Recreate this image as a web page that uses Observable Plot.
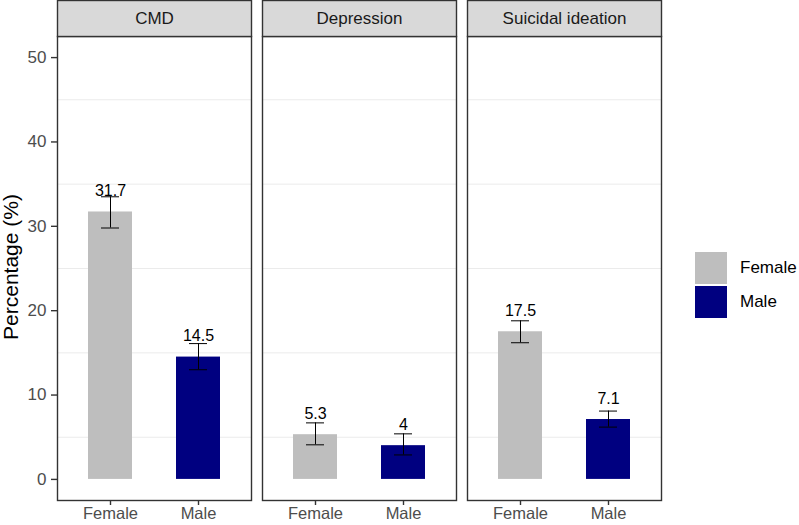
<!DOCTYPE html>
<html>
<head>
<meta charset="utf-8">
<script src="https://cdn.jsdelivr.net/npm/d3@7"></script>
<script src="https://cdn.jsdelivr.net/npm/@observablehq/plot@0.6"></script>
<style>
  html, body { margin: 0; padding: 0; background: #fff; }
  #wrap { position: relative; width: 799px; height: 525px; font-family: "Liberation Sans", Arial, sans-serif; }
  #legend { position: absolute; left: 695px; top: 251px; }
  .key { display: flex; align-items: center; height: 34px; }
  .sw { width: 32px; height: 32px; margin-right: 13px; }
  .lab { font-size: 17px; color: #000; }
</style>
</head>
<body>
<div id="wrap"><div id="chart"></div><div id="legend"></div></div>
<script>
const categories = ["CMD", "Depression", "Suicidal ideation"];
const sexes = ["Female", "Male"];
const femaleValues = [31.7, 5.3, 17.5];
const maleValues = [14.5, 4.0, 7.1];
const femaleLow = [29.8, 4.1, 16.2];
const femaleHigh = [33.5, 6.7, 18.8];
const maleLow = [13.0, 2.9, 6.2];
const maleHigh = [16.1, 5.4, 8.1];
const yTicks = [0, 10, 20, 30, 40, 50];
const yMinor = [5, 15, 25, 35, 45];
const colors = ["#BEBEBE", "#000080"];

const rows = [];
categories.forEach((c, i) => {
  rows.push({cat: c, sex: "Female", value: femaleValues[i], low: femaleLow[i], high: femaleHigh[i]});
  rows.push({cat: c, sex: "Male", value: maleValues[i], low: maleLow[i], high: maleHigh[i]});
});

const grid = [];
categories.forEach(c => yMinor.forEach(v => grid.push({cat: c, v})));

const font = "'Liberation Sans', Arial, sans-serif";

const chart = Plot.plot({
  width: 799,
  height: 525,
  marginLeft: 57,
  marginRight: 138,
  marginTop: 36,
  marginBottom: 25,
  style: {fontFamily: font, background: "#fff", overflow: "visible"},
  fx: {domain: categories, paddingInner: 0.054, paddingOuter: 0, axis: null},
  x: {domain: sexes, paddingInner: 0.5, paddingOuter: 0.35, axis: null},
  y: {type: "linear", domain: [-2.5, 52.5], axis: null},
  color: {domain: sexes, range: colors},
  marks: [
    Plot.ruleY(grid, {fx: "cat", y: "v", stroke: "#EBEBEB", strokeWidth: 1}),
    Plot.barY(rows, {fx: "cat", x: "sex", y1: 0, y2: "value", fill: "sex"}),
    Plot.ruleX(rows, {fx: "cat", x: "sex", y1: "low", y2: "high", stroke: "#000", strokeWidth: 1}),
    Plot.tickY(rows, {fx: "cat", x: "sex", y: "low", stroke: "#000", strokeWidth: 1, insetLeft: 13, insetRight: 13}),
    Plot.tickY(rows, {fx: "cat", x: "sex", y: "high", stroke: "#000", strokeWidth: 1, insetLeft: 13, insetRight: 13}),
    Plot.text(rows, {fx: "cat", x: "sex", y: "value", text: d => String(d.value), dy: -21, fontSize: 16, fill: "#000", lineAnchor: "middle"}),
    Plot.frame({stroke: "#333", strokeWidth: 1.4}),
    Plot.frame({insetTop: -36, insetBottom: 464, fill: "#D9D9D9", stroke: "#333", strokeWidth: 1.4}),
    Plot.text(categories, {fx: d => d, text: d => d, frameAnchor: "top", dy: -18, fontSize: 17, fill: "#1A1A1A", lineAnchor: "middle"}),
    Plot.axisX({ticks: sexes, tickSize: 5, tickPadding: 2, fontSize: 16.5, color: "#4D4D4D", stroke: "#333", strokeWidth: 1.4, label: null}),
    Plot.axisY({ticks: yTicks, tickSize: 6, tickPadding: 5, fontSize: 17, color: "#4D4D4D", stroke: "#333", strokeWidth: 1.4, label: null})
  ]
});
document.getElementById("chart").appendChild(chart);

// Y axis title
const svg = d3.select(chart);
svg.append("text")
  .attr("transform", "translate(12,267) rotate(-90)")
  .attr("text-anchor", "middle")
  .attr("dominant-baseline", "middle")
  .attr("font-size", 21)
  .attr("font-family", font)
  .attr("fill", "#000")
  .text("Percentage (%)");

const legend = document.getElementById("legend");
sexes.forEach((s, i) => {
  const k = document.createElement("div");
  k.className = "key";
  k.innerHTML = `<div class="sw" style="background:${colors[i]}"></div><div class="lab">${s}</div>`;
  legend.appendChild(k);
});
</script>
</body>
</html>
